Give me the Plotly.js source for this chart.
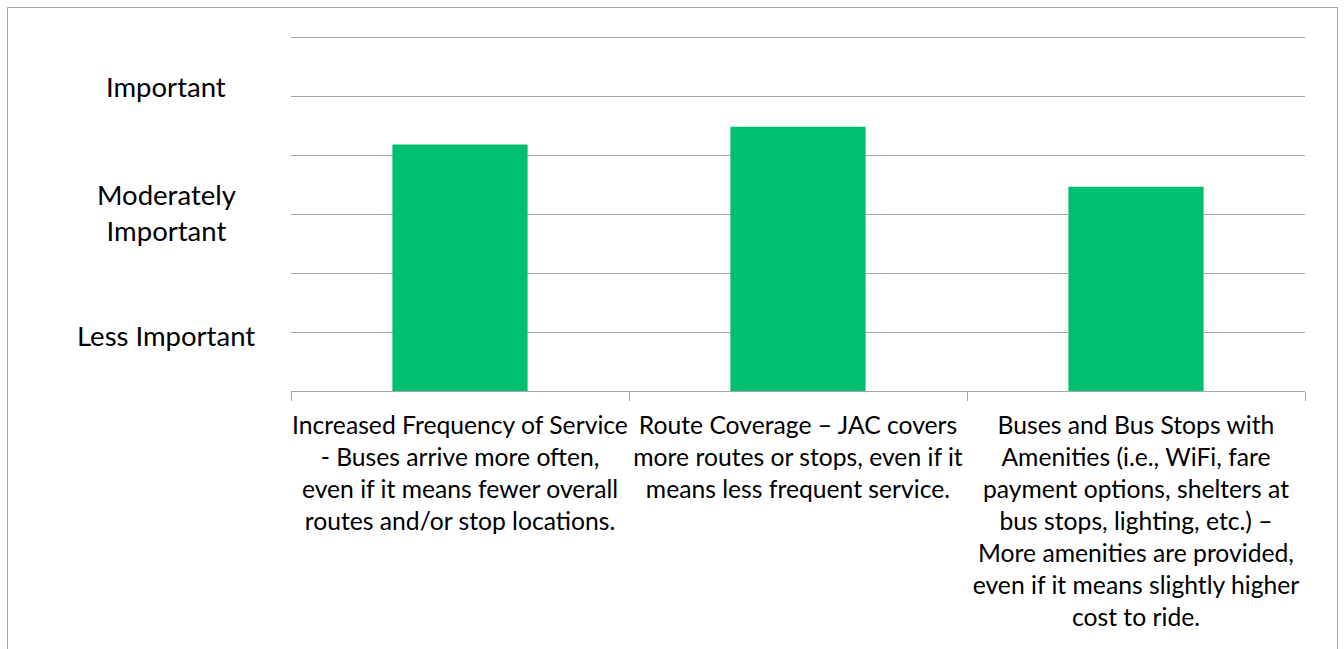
<!DOCTYPE html>
<html>
<head>
<meta charset="utf-8">
<script src="https://cdn.plot.ly/plotly-3.0.1.min.js"></script>
<style>
  html, body { margin: 0; padding: 0; background: #ffffff; }
  #chart { width: 1344px; height: 649px; }
</style>
</head>
<body>
<div id="chart"></div>
<script>
// ---- data ----
const categories = [
  "Increased Frequency of Service<br>- Buses arrive more often,<br>even if it means fewer overall<br>routes and/or stop locations.",
  "Route Coverage – JAC covers<br>more routes or stops, even if it<br>means less frequent service.",
  "Buses and Bus Stops with<br>Amenities (i.e., WiFi, fare<br>payment options, shelters at<br>bus stops, lighting, etc.) –<br>More amenities are provided,<br>even if it means slightly higher<br>cost to ride."
];
const categoryKeys = ["freq", "coverage", "amenities"];
const importance = [2.09, 2.24, 1.73];
const levelLabels = ["Less Important", "Moderately<br>Important", "Important"];
const levelValues = [0.47, 1.51, 2.58];
const yMax = 3;

// ---- layout geometry ----
const W = 1344, H = 649;
const L = 291, R = 39, T = 37, B = 258;
const pw = W - L - R, ph = H - T - B;
const px2paperX = px => (px - L) / pw;
const py2paperY = py => (H - B - py) / ph;

const FONT = "Lato, 'Open Sans', sans-serif";
const GRID = "#a6a6a6";

const trace = {
  type: "bar",
  x: categoryKeys,
  y: importance,
  marker: { color: "#00BF6F" },
  hoverinfo: "skip"
};

const annotations = levelLabels.map((t, i) => ({
  text: t,
  xref: "paper", yref: "y",
  x: px2paperX(166), y: levelValues[i],
  xanchor: "center", yanchor: "middle",
  align: "center",
  showarrow: false,
  font: { family: FONT, size: 27.5, color: "#000000" }
}));

const layout = {
  width: W, height: H,
  margin: { l: L, r: R, t: T, b: B, pad: 0 },
  paper_bgcolor: "#ffffff",
  plot_bgcolor: "#ffffff",
  showlegend: false,
  bargap: 0.6,
  font: { family: FONT, size: 24, color: "#000000" },
  xaxis: {
    type: "category",
    tickmode: "array",
    tickvals: categoryKeys,
    ticktext: categories,
    tickson: "boundaries",
    ticks: "outside",
    ticklen: 9,
    tickcolor: GRID,
    tickwidth: 1,
    ticklabelstandoff: 12,
    showline: true,
    linecolor: GRID,
    linewidth: 1,
    showgrid: false,
    tickangle: 0,
    tickfont: { family: FONT, size: 24.7, color: "#000000" },
    automargin: false
  },
  yaxis: {
    range: [0, yMax],
    dtick: 0.5,
    tick0: 0,
    showgrid: true,
    gridcolor: GRID,
    gridwidth: 1,
    zeroline: false,
    showline: false,
    showticklabels: false,
    ticks: "",
    automargin: false
  },
  annotations: annotations,
  shapes: [{
    type: "rect",
    xref: "paper", yref: "paper",
    x0: px2paperX(7.5), x1: px2paperX(1337.5),
    y0: py2paperY(700), y1: py2paperY(7.5),
    line: { color: "#a6a6a6", width: 1 },
    fillcolor: "rgba(0,0,0,0)",
    layer: "below"
  }, {
    // top gridline (Plotly drops the grid line that sits on the plot edge)
    type: "line",
    xref: "paper", yref: "paper",
    x0: 0, x1: 1, y0: py2paperY(T + 0.5), y1: py2paperY(T + 0.5),
    line: { color: GRID, width: 1 },
    layer: "below"
  }]
};

Plotly.newPlot("chart", [trace], layout, { displayModeBar: false, staticPlot: true });
</script>
</body>
</html>
